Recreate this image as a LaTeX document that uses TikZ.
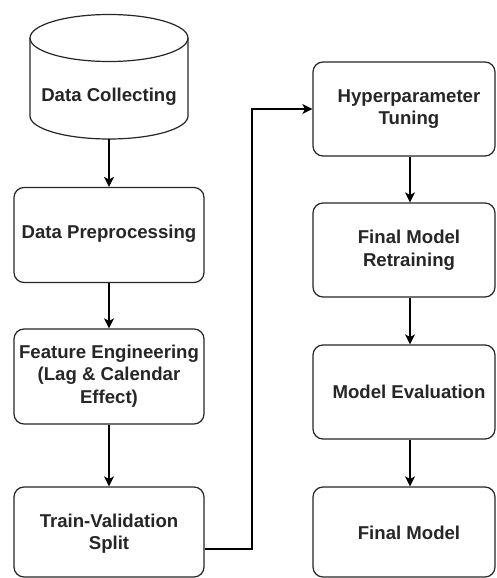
\documentclass[tikz,border=0pt]{standalone}
\usepackage{fontspec}
\setmainfont{Liberation Sans}
\usetikzlibrary{arrows.meta,calc}
\begin{document}
\begin{tikzpicture}[x=1pt,y=-1pt,
  every node/.style={font=\bfseries\fontsize{18.6}{22.5}\selectfont, text=black!85},
  box/.style={draw=black!85, line width=1.2pt, rounded corners=10pt, inner sep=0pt},
  lbox/.style={box, minimum width=190pt, minimum height=95pt},
  rbox/.style={box, minimum width=182pt, minimum height=94pt},
  txt/.style={align=center, inner sep=0pt},
  conn/.style={draw=black, line width=1.2pt, -{Stealth[length=10pt,width=10pt,inset=2.5pt]}}]
\useasboundingbox (0,0) rectangle (496,578);
\fill[white] (0,0) rectangle (496,578);
% cylinder
\node[minimum width=158pt, minimum height=125pt, inner sep=0pt] (dc) at (109,76.5) {};
\draw[draw=black!85, line width=1.2pt] (30,38) -- (30,116)
  arc[start angle=180, end angle=0, x radius=79, y radius=23] -- (188,38);
\draw[draw=black!85, line width=1.2pt] (109,38) ellipse [x radius=79, y radius=23.5];
\node[txt] (dcT) at (109,97) {Data Collecting};
% left column
\node[lbox] (dp) at (109,235) {};
\node[txt] (dpT) at (109,233.5) {Data Preprocessing};
\node[lbox] (fe) at (109,376.5) {};
\node[txt] (feT) at (109,376) {Feature Engineering\\(Lag \& Calendar\\Effect)};
\node[lbox, minimum height=90pt] (tv) at (109,532) {};
\node[txt] (tvT) at (109,533.5) {Train-Validation\\Split};
% right column
\node[rbox] (hp) at (404,109) {};
\node[txt] (hpT) at (409,109) {Hyperparameter\\Tuning};
\node[rbox] (fm) at (404,250) {};
\node[txt] (fmT) at (409,250) {Final Model\\Retraining};
\node[rbox] (ev) at (404,392) {};
\node[txt] (evT) at (409,392) {Model Evaluation};
\node[rbox, minimum height=90pt] (fmod) at (404,532) {};
\node[txt] (fmodT) at (409,533) {Final Model};
% connectors
\draw[conn] (dc.south) -- (dp.north);
\draw[conn] (dp.south) -- (fe.north);
\draw[conn] (fe.south) -- (tv.north);
\coordinate (c1) at (252,549);
\draw[conn] (tv.east |- c1) -- (c1) |- (hp.west);
\draw[conn] ($(hpT |- hp.south)+(1,0)$) -- ($(hpT |- fm.north)+(1,0)$);
\draw[conn] ($(fmT |- fm.south)+(1,0)$) -- ($(fmT |- ev.north)+(1,0)$);
\draw[conn] ($(evT |- ev.south)+(1,0)$) -- ($(evT |- fmod.north)+(1,0)$);
\end{tikzpicture}
\end{document}
